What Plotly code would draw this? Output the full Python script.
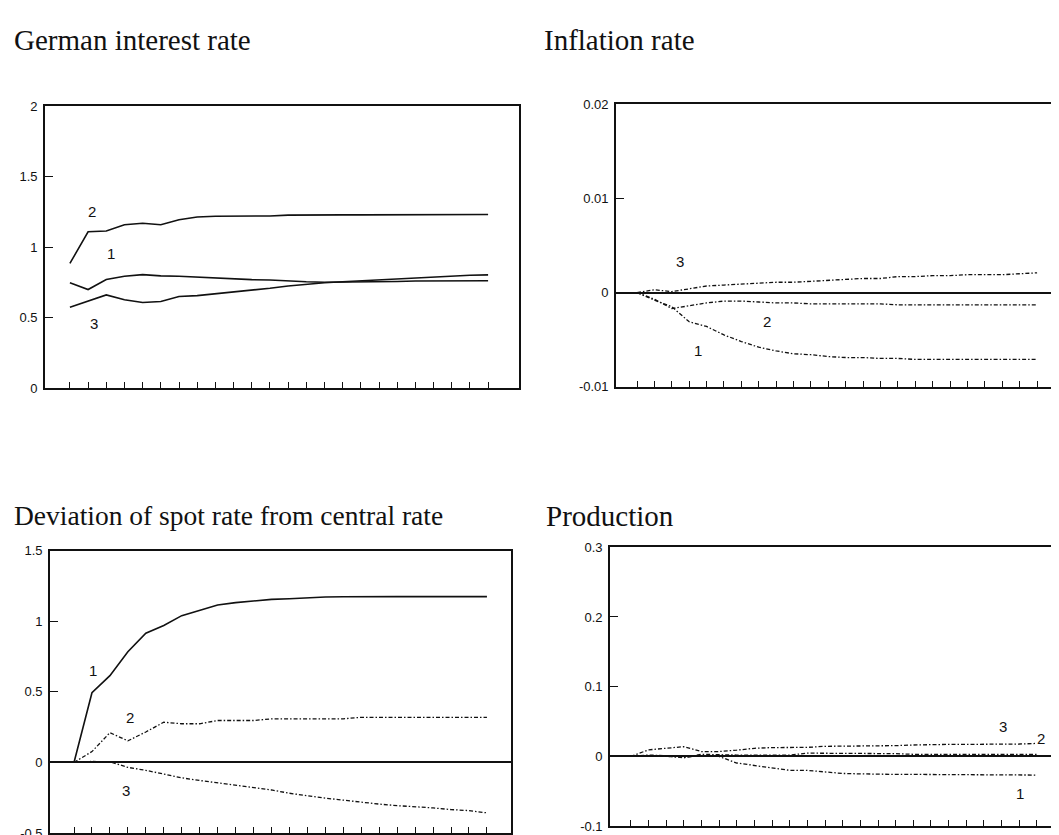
import plotly.graph_objects as go

periods = list(range(1, 25))

# German interest rate
gir_1 = [0.748, 0.70, 0.771, 0.794, 0.806, 0.797, 0.794, 0.787, 0.78, 0.777, 0.77, 0.768,
         0.76, 0.755, 0.752, 0.752, 0.752, 0.755, 0.757, 0.76, 0.76, 0.76, 0.762, 0.762]
gir_2 = [0.885, 1.11, 1.115, 1.16, 1.17, 1.16, 1.195, 1.215, 1.22, 1.22, 1.222, 1.222,
         1.228, 1.23, 1.23, 1.23, 1.23, 1.23, 1.23, 1.23, 1.23, 1.232, 1.232, 1.232]
gir_3 = [0.574, 0.62, 0.662, 0.627, 0.608, 0.615, 0.65, 0.657, 0.669, 0.681, 0.697, 0.709,
         0.725, 0.739, 0.748, 0.755, 0.762, 0.764, 0.771, 0.778, 0.785, 0.794, 0.801, 0.804]

# Inflation rate
inf_1 = [0, -0.0008, -0.0015, -0.0031, -0.0036, -0.0045, -0.0052, -0.0058, -0.0062, -0.0065,
         -0.0066, -0.0068, -0.0069, -0.0069, -0.007, -0.007, -0.0071, -0.0071, -0.0071, -0.0071,
         -0.0071, -0.0071, -0.0071, -0.0071]
inf_2 = [0, -0.0007, -0.0017, -0.0014, -0.0011, -0.0009, -0.0009, -0.001, -0.0011, -0.0011,
         -0.0012, -0.0012, -0.0012, -0.0012, -0.0012, -0.0013, -0.0013, -0.0013, -0.0013, -0.0013,
         -0.0013, -0.0013, -0.0013, -0.0013]
inf_3 = [0, 0.0003, 0.0001, 0.0004, 0.0007, 0.0008, 0.0009, 0.001, 0.0011, 0.0011,
         0.0012, 0.0013, 0.0014, 0.0015, 0.0015, 0.0017, 0.0017, 0.0018, 0.0018, 0.0019,
         0.0019, 0.0019, 0.002, 0.0021]

# Deviation of spot rate from central rate
dev_1 = [0, 0.494, 0.615, 0.784, 0.916, 0.97, 1.04, 1.079, 1.116, 1.132, 1.144, 1.155,
         1.16, 1.167, 1.172, 1.174, 1.176, 1.175, 1.175, 1.175, 1.175, 1.175, 1.175, 1.175]
dev_2 = [0, 0.077, 0.211, 0.153, 0.216, 0.285, 0.274, 0.274, 0.297, 0.297, 0.297, 0.309,
         0.309, 0.309, 0.309, 0.309, 0.32, 0.32, 0.32, 0.32, 0.32, 0.32, 0.32, 0.32]
dev_3 = [0, 0.007, 0.005, -0.035, -0.056, -0.081, -0.109, -0.128, -0.144, -0.16, -0.179, -0.195,
         -0.218, -0.237, -0.253, -0.267, -0.283, -0.295, -0.306, -0.313, -0.322, -0.334, -0.341, -0.357]

# Production
prod_1 = [0, 0.001, 0, -0.001, 0.001, 0, -0.0094, -0.0127, -0.0164, -0.02, -0.02, -0.022,
          -0.0244, -0.025, -0.0258, -0.0258, -0.0258, -0.0258, -0.0258, -0.0258, -0.0258, -0.0258,
          -0.0258, -0.0267]
prod_2 = [0, 0.002, 0.001, -0.002, 0.003, 0.002, 0.002, 0.002, 0.002, 0.002, 0.0047, 0.0047,
          0.0047, 0.004, 0.004, 0.004, 0.003, 0.003, 0.003, 0.003, 0.003, 0.003, 0.003, 0.003]
prod_3 = [0, 0.0094, 0.0117, 0.014, 0.007, 0.007, 0.009, 0.0117, 0.0127, 0.013, 0.013, 0.0145,
          0.0145, 0.0145, 0.0155, 0.0155, 0.0164, 0.0173, 0.0173, 0.0173, 0.0173, 0.0173, 0.0178, 0.0187]

titles = ["German interest rate", "Inflation rate",
          "Deviation of spot rate from central rate", "Production"]

W, H = 1059, 835
INK = "#111111"
DOT = "4px,2px,1.5px,2px"

fig = go.Figure()

def px_x(p):
    return p / W

def px_y(p):
    return 1 - p / H

panels = [
    ("x", "y", 37, 511, 93, 380, [-0.37, 25.7], [0, 2],
     [0, 0.5, 1, 1.5, 2], ["0", "0.5", "1", "1.5", "2"], True, False),
    ("x2", "y2", 608, W, 91, 378.5, [-0.207, 25.72], [-0.01, 0.02],
     [-0.01, 0, 0.01, 0.02], ["-0.01", "0", "0.01", "0.02"], False, True),
    ("x3", "y3", 42, 503, 545.5, 833, [-0.337, 25.34], [-0.5, 1.5],
     [-0.5, 0, 0.5, 1, 1.5], ["-0.5", "0", "0.5", "1", "1.5"], True, True),
    ("x4", "y4", 602, W, 542, 826, [-0.172, 25.7], [-0.1, 0.3],
     [-0.1, 0, 0.1, 0.2, 0.3], ["-0.1", "0", "0.1", "0.2", "0.3"], False, True),
]

series = [
    [(gir_1, None), (gir_2, None), (gir_3, None)],
    [(inf_1, DOT), (inf_2, DOT), (inf_3, DOT)],
    [(dev_1, None), (dev_2, DOT), (dev_3, DOT)],
    [(prod_1, DOT), (prod_2, DOT), (prod_3, DOT)],
]

labels = [
    [("2", 2.2, 1.254), ("1", 3.25, 0.955), ("3", 2.3, 0.46)],
    [("3", 3.47, 0.0033), ("2", 8.5, -0.0031), ("1", 4.5, -0.0062)],
    [("1", 2.06, 0.654), ("2", 4.1, 0.32), ("3", 3.9, -0.2)],
    [("3", 22.1, 0.0436), ("2", 24.2, 0.0253), ("1", 23.05, -0.0535)],
]

title_pos = [(4, 25), (534, 25), (4, 510), (536, 510)]
title_size = [29, 29, 27.5, 29]

layout = dict(
    width=W, height=H,
    margin=dict(l=0, r=0, t=0, b=0),
    paper_bgcolor="white", plot_bgcolor="white",
    showlegend=False,
    font=dict(family="Liberation Sans, Arial", size=13, color=INK),
)

annotations = []
for i, (xr, yr, x0, x1, yt, yb, xrange, yrange, tv, tt, mir, zl) in enumerate(panels):
    k = "" if i == 0 else str(i + 1)
    layout["xaxis" + k] = dict(
        domain=[px_x(x0), min(1.0, px_x(x1))], range=xrange, anchor=yr,
        showline=True, linecolor=INK, linewidth=1.6, mirror=True,
        ticks="inside", ticklen=6, tickwidth=1.2, tickcolor=INK,
        tickvals=periods, showticklabels=False, showgrid=False, zeroline=False,
    )
    layout["yaxis" + k] = dict(
        domain=[px_y(yb), px_y(yt)], range=yrange, anchor=xr,
        showline=True, linecolor=INK, linewidth=1.6, mirror=mir,
        ticks="inside", ticklen=8, tickwidth=1.2, tickcolor=INK,
        tickvals=tv, ticktext=tt, showgrid=False,
        zeroline=zl, zerolinecolor=INK, zerolinewidth=2.2,
        tickfont=dict(size=13), ticklabelstandoff=3,
    )
    for vals, dash in series[i]:
        fig.add_trace(go.Scatter(
            x=periods, y=vals, mode="lines", xaxis=xr, yaxis=yr,
            line=dict(color=INK, width=1.6 if dash is None else 1.3,
                      dash=dash if dash else "solid"),
            hoverinfo="skip",
        ))
    for txt, lx, ly in labels[i]:
        annotations.append(dict(
            x=lx, y=ly, xref=xr, yref=yr, text=txt, showarrow=False,
            font=dict(family="Liberation Sans, Arial", size=15, color=INK),
        ))
    tx, ty = title_pos[i]
    annotations.append(dict(
        x=px_x(tx), y=px_y(ty), xref="paper", yref="paper", text=titles[i],
        showarrow=False, xanchor="left", yanchor="middle",
        font=dict(family="Liberation Serif, Times New Roman", size=title_size[i], color=INK),
    ))

layout["annotations"] = annotations
fig.update_layout(**layout)
fig.write_html("out.html")
